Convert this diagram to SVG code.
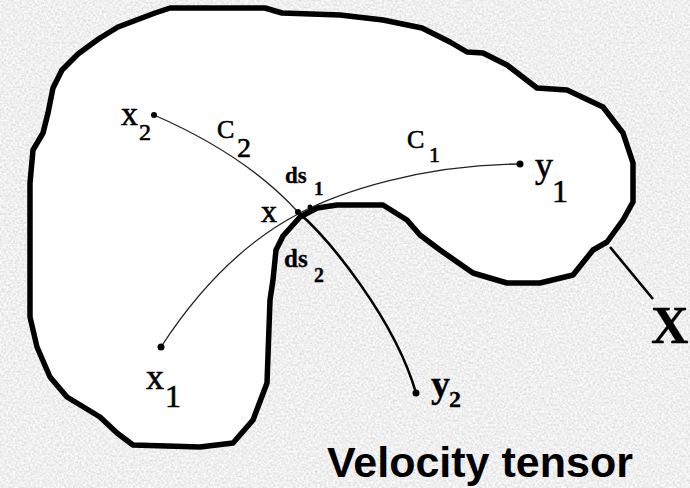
<svg xmlns="http://www.w3.org/2000/svg" width="690" height="488" viewBox="0 0 690 488">
<defs>
<filter id="tex" x="0" y="0" width="100%" height="100%">
<feTurbulence type="fractalNoise" baseFrequency="0.45" numOctaves="2" seed="7" result="n"/>
<feColorMatrix in="n" type="matrix" values="0.45 0 0 0 0.64  0.45 0 0 0 0.64  0.45 0 0 0 0.64  0 0 0 0 1"/>
</filter>
<style>
.blob{fill:#ffffff;stroke:#000;stroke-width:5.5;stroke-linejoin:round;stroke-linecap:round}
.thin{fill:none;stroke:#222;stroke-width:1.3}
.thick{fill:none;stroke:#000;stroke-width:2.6;stroke-linecap:round}
.ptr{fill:none;stroke:#000;stroke-width:2.6}
.dot{fill:#000}
.lab{font-family:"Liberation Serif","Times New Roman",serif;fill:#000;stroke:#000;stroke-width:0.6}
.b{font-weight:bold;stroke-width:0.3}
.title{font-family:"Liberation Sans",Arial,sans-serif;font-weight:bold;font-size:43px;fill:#000}
</style>
</defs>
<rect id="background" x="0" y="0" width="690" height="488" fill="#dedede"/>
<rect x="0" y="0" width="690" height="488" filter="url(#tex)"/>
<g id="region-X">
<path class="blob" d="M100,38 L118,27 L155,13 L170,8 L265,8 L282,13 L340,15 L383,20 L422,28 L450,42 L467,52 L483,53 L507,65 L537,88 L567,90 L603,107 L623,133 L633,163 L633,202 L623,220 L607,242 L593,250 L573,275 L540,283 L507,283 L473,273 L440,250 L420,235 L407,220 L383,205 L337,205 L317,208 L300,217 L283,236 L276,250 L273,280 L270,300 L267,383 L253,420 L233,443 L200,447 L133,445 L117,433 L100,417 L67,397 L50,377 L37,347 L30,317 L30,183 L33,150 L43,133 L48,113 L53,88 L62,70 L78,54 L93,43 Z"/>
</g>
<g id="connectors">
<path id="C1" class="thin" d="M161,347 C185,310 230,250 298,214 C340,192 420,165 520,164"/>
<path id="C2-upper" class="thin" d="M154,115 C200,135 255,165 298,212"/>
<path id="C2-lower" class="thick" d="M298,212 C330,240 395,320 416,393"/>
<path id="X-pointer" class="ptr" d="M610,247 L653,299"/>
</g>
<g id="point-x2"><circle class="dot" cx="154" cy="115" r="3"/><text class="lab" x="121" y="125" font-size="34">x</text><text class="lab" x="139" y="140" font-size="24">2</text></g>
<g id="point-x1"><circle class="dot" cx="161" cy="347" r="3.5"/><text class="lab" x="146" y="389" font-size="36">x</text><text class="lab" x="165" y="407" font-size="32">1</text></g>
<g id="point-y1"><circle class="dot" cx="520" cy="164" r="3.5"/><text class="lab" x="535" y="177" font-size="36">y</text><text class="lab" x="552" y="202" font-size="32">1</text></g>
<g id="point-y2"><circle class="dot" cx="416" cy="393" r="3.5"/><text class="lab b" x="431" y="397" font-size="38">y</text><text class="lab b" x="449" y="407" font-size="24">2</text></g>
<g id="point-x"><circle class="dot" cx="298" cy="212" r="3"/><text class="lab" x="261" y="222" font-size="32">x</text></g>
<g id="point-ds1"><circle class="dot" cx="310" cy="207" r="2.5"/><text class="lab b" x="285" y="183" font-size="23">ds</text><text class="lab b" x="314" y="195" font-size="19">1</text></g>
<g id="label-ds2"><text class="lab b" x="284" y="267" font-size="25">ds</text><text class="lab b" x="314" y="282" font-size="20">2</text></g>
<g id="label-C1"><text class="lab" x="407" y="148" font-size="26">C</text><text class="lab" x="429" y="162" font-size="22">1</text></g>
<g id="label-C2"><text class="lab" x="217" y="138" font-size="26">C</text><text class="lab" x="237" y="157" font-size="28">2</text></g>
<g id="label-X"><text class="lab b" x="651" y="343" font-size="52">X</text></g>
<text id="title" class="title" x="327" y="477">Velocity tensor</text>
</svg>
